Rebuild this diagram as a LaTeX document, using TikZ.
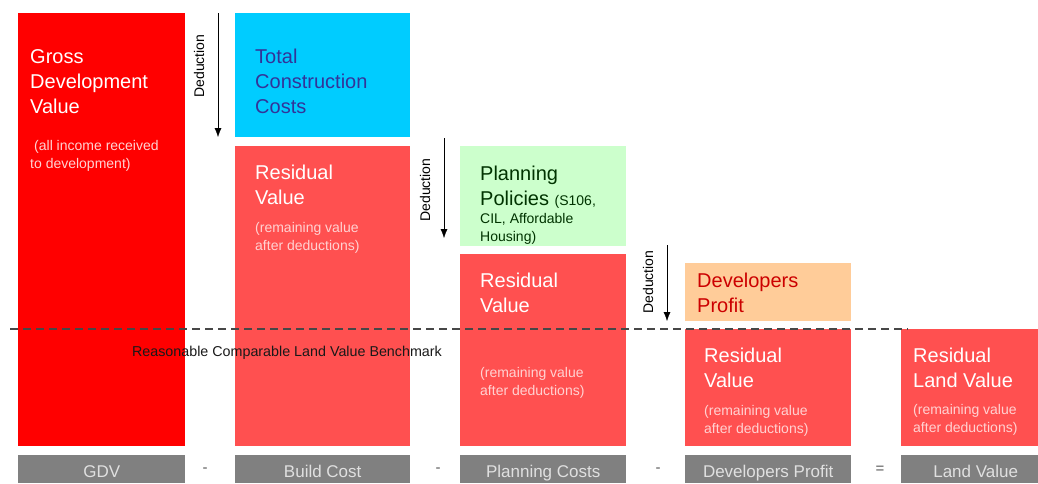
\documentclass[tikz,border=0pt]{standalone}
\usepackage{fontspec}
\setmainfont{Liberation Sans}
\usetikzlibrary{arrows.meta}

\definecolor{gdvred}{HTML}{FF0000}
\definecolor{resred}{HTML}{FF5050}
\definecolor{tccblue}{HTML}{00CCFF}
\definecolor{ppgreen}{HTML}{CCFFCC}
\definecolor{dporange}{HTML}{FFCC99}
\definecolor{labgray}{HTML}{808080}
\definecolor{tccink}{HTML}{333399}
\definecolor{ppink}{HTML}{003300}
\definecolor{dpink}{HTML}{CC0000}
\definecolor{notepink}{HTML}{FFD2D2}

\newcommand\ttlsize{\fontsize{20}{25}\selectfont}
\newcommand\notesize{\fontsize{14}{17.5}\selectfont}

\begin{document}
\begin{tikzpicture}[x=1pt,y=-1pt,>={Latex[length=9pt,width=7pt]},
  box/.style={anchor=north west,inner sep=0,outer sep=0,draw=none},
  ttl/.style={anchor=base west,inner sep=0,align=left,font=\ttlsize,text=white},
  note/.style={anchor=base west,inner sep=0,align=left,font=\notesize,text=notepink},
  lab/.style={inner sep=0,fill=labgray,text=white!88!black,font=\fontsize{17}{20}\selectfont,
    minimum height=28,text height=17,text depth=1},
  op/.style={font=\fontsize{15}{18}\selectfont,text=black!65},
  ded/.style={rotate=90,inner sep=0,font=\fontsize{14}{17}\selectfont}]
  \useasboundingbox (0,0) rectangle (1038,483);

  % 柱
  \node[box,fill=gdvred,minimum width=167,minimum height=433] (gdv) at (18,13) {};
  \node[box,fill=tccblue,minimum width=175,minimum height=124] (tcc) at (235,13) {};
  \node[box,fill=resred,minimum width=175,minimum height=300] (res1) at (235,146) {};
  \node[box,fill=ppgreen,minimum width=166,minimum height=100] (pp) at (460,146) {};
  \node[box,fill=resred,minimum width=166,minimum height=192] (res2) at (460,254) {};
  \node[box,fill=dporange,minimum width=166,minimum height=58] (dp) at (685,263) {};
  \node[box,fill=resred,minimum width=166,minimum height=117] (res3) at (685,329) {};
  \node[box,fill=resred,minimum width=137,minimum height=117] (rlv) at (901,329) {};

  % 文字（座標は最終行のベースライン）
  \node[ttl] (gdvtxt) at (30,113) {Gross\\Development\\Value};
  \node[note] (gdvnote) at (30,168) {\hspace*{4pt}(all income received\\to development)};
  \node[ttl,text=tccink] (tcctxt) at (255,113) {Total\\Construction\\Costs};
  \node[ttl] (res1txt) at (255,204) {Residual\\Value};
  \node[note] (res1note) at (255,250) {(remaining value\\after deductions)};
  \node[ttl,text=ppink] (pptxt) at (480,205) {Planning\\Policies {\notesize(S106,}};
  \node[note,text=ppink] (ppnote) at (480,241) {CIL, Affordable\\Housing)};
  \node[ttl] (res2txt) at (480,312) {Residual\\Value};
  \node[note] (res2note) at (480,395) {(remaining value\\after deductions)};
  \node[ttl,text=dpink] (dptxt) at (697,312) {Developers\\Profit};
  \node[ttl] (res3txt) at (704,387) {Residual\\Value};
  \node[note] (res3note) at (704,433) {(remaining value\\after deductions)};
  \node[ttl] (rlvtxt) at (913,387) {Residual\\Land Value};
  \node[note] (rlvnote) at (913,432) {(remaining value\\after deductions)};

  % 下の帯
  \node[lab,minimum width=167,anchor=north west] (l1) at (18,455) {GDV};
  \node[lab,minimum width=175,anchor=north west] (l2) at (235,455) {Build Cost};
  \node[lab,minimum width=166,anchor=north west] (l3) at (460,455) {Planning Costs};
  \node[lab,minimum width=166,anchor=north west] (l4) at (685,455) {Developers Profit};
  \node[lab,minimum width=137,anchor=north west] (l5) at (901,455) {\hspace*{12pt}Land Value};
  \node[op] (op1) at (205,470) {-};
  \node[op] (op2) at (438,470) {-};
  \node[op] (op3) at (658,470) {-};
  \node[op] (op4) at (880,470) {=};

  % ベンチマーク線
  \coordinate (bm1) at (10,329);
  \coordinate (bm2) at (908,329);
  \draw[black!72,line width=1.2pt,dash pattern=on 8pt off 5pt] (bm1) -- (bm2);
  \node[font=\fontsize{14.3}{17}\selectfont,text=black!90] (bmtxt) at (287,353) {Reasonable Comparable Land Value Benchmark};

  % 控除の矢印
  \coordinate (d1a) at (218,13);  \coordinate (d1b) at (218,137);
  \coordinate (d2a) at (444,138); \coordinate (d2b) at (444,238);
  \coordinate (d3a) at (667,245); \coordinate (d3b) at (667,321);
  \draw[->] (d1a) -- (d1b);
  \draw[->] (d2a) -- (d2b);
  \draw[->] (d3a) -- (d3b);
  \node[ded] (ded1) at (199,66) {Deduction};
  \node[ded] (ded2) at (425,190) {Deduction};
  \node[ded] (ded3) at (648,282) {Deduction};
\end{tikzpicture}
\end{document}
